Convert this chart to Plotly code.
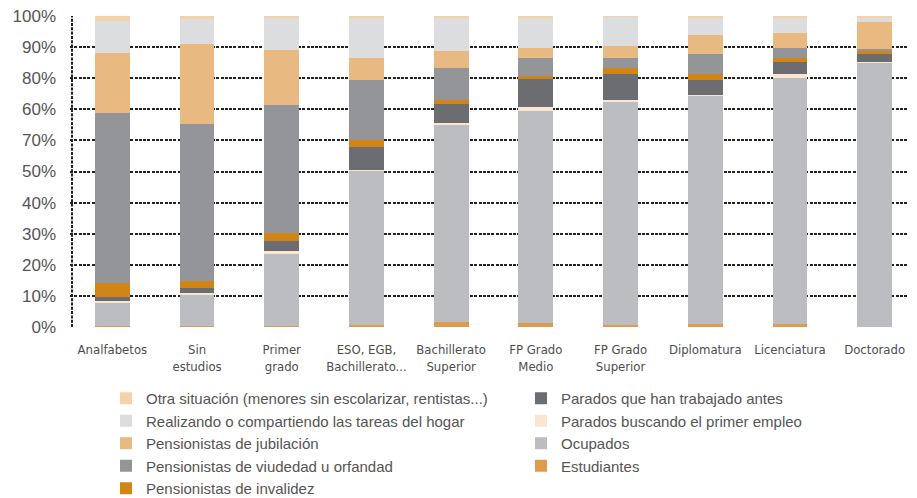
import plotly.graph_objects as go

categories = ["Analfabetos", "Sin<br>estudios", "Primer<br>grado", "ESO, EGB,<br>Bachillerato...",
              "Bachillerato<br>Superior", "FP Grado<br>Medio", "FP Grado<br>Superior",
              "Diplomatura", "Licenciatura", "Doctorado"]

estudiantes = [0.3, 0.3, 0.3, 0.5, 1.6, 1.2, 0.5, 1.0, 1.0, 0.0]
ocupados = [7.7, 10.2, 23.4, 49.8, 63.5, 68.4, 72.0, 73.4, 79.2, 85.0]
parados_buscando = [0.3, 0.3, 0.6, 0.3, 0.6, 1.3, 0.6, 0.3, 1.0, 0.1]
parados_trabajado = [1.5, 1.9, 3.5, 7.4, 6.1, 9.0, 8.4, 4.8, 4.1, 2.6]
invalidez = [4.2, 2.0, 2.3, 2.0, 1.3, 0.9, 1.7, 1.8, 1.3, 1.2]
viudedad = [54.9, 50.7, 41.4, 19.5, 10.3, 5.8, 3.4, 6.6, 3.2, 0.5]
jubilacion = [19.3, 25.5, 17.7, 7.1, 5.5, 3.2, 3.9, 6.1, 4.8, 8.8]
realizando = [10.3, 8.0, 10.3, 13.0, 10.6, 9.7, 9.2, 5.5, 4.9, 1.3]
otra = [1.5, 1.1, 0.5, 0.4, 0.5, 0.5, 0.3, 0.5, 0.5, 0.5]

tick_vals = [0, 10, 20, 30, 40, 50, 60, 70, 80, 90, 100]
tick_text = ["0%", "10%", "20%", "30%", "40%", "50%", "70%", "60%", "80%", "90%", "100%"]

# (name, values, color, legend, rank) in stacking order bottom -> top
series = [
    ("Estudiantes", estudiantes, "#DE9B4B", "legend2", 4),
    ("Ocupados", ocupados, "#BCBDC0", "legend2", 3),
    ("Parados buscando el primer empleo", parados_buscando, "#FAE5D0", "legend2", 2),
    ("Parados que han trabajado antes", parados_trabajado, "#6C6D70", "legend2", 1),
    ("Pensionistas de invalidez", invalidez, "#D08516", "legend", 5),
    ("Pensionistas de viudedad u orfandad", viudedad, "#939598", "legend", 4),
    ("Pensionistas de jubilación", jubilacion, "#E8B980", "legend", 3),
    ("Realizando o compartiendo las tareas del hogar", realizando, "#DCDDDF", "legend", 2),
    ("Otra situación (menores sin escolarizar, rentistas...)", otra, "#F4D2AA", "legend", 1),
]

fig = go.Figure()
for name, vals, color, leg, rank in series:
    fig.add_trace(go.Bar(
        x=categories, y=vals, name=name,
        marker=dict(color=color, line=dict(width=0)),
        legend=leg, legendrank=rank, legendgroup=name,
    ))

FONT = "Liberation Sans, Arial, sans-serif"
NARROW = "DejaVu Sans Condensed, Liberation Sans Narrow, sans-serif"
DASH = "3px,1.3px"

W, H = 909, 490  # page body adds an 8px offset
PLOT_W = W - 62

fig.update_layout(
    width=W, height=H,
    margin=dict(l=62, r=0, t=8, b=171, autoexpand=False),
    barmode="stack", bargap=0.59,
    plot_bgcolor="white", paper_bgcolor="white",
    font=dict(family=FONT, color="#555555", size=15),
    xaxis=dict(
        showgrid=False, showline=False, zeroline=False, ticks="",
        tickfont=dict(family=NARROW, size=13, color="#4d4d4d"),
        ticklabelstandoff=13, tickangle=0, automargin=False,
    ),
    yaxis=dict(
        range=[0, 100], tickmode="array", tickvals=tick_vals, ticktext=tick_text,
        showgrid=True, gridcolor="#222222", gridwidth=2, griddash=DASH,
        zeroline=False, showline=False, ticks="",
        tickfont=dict(family=FONT, size=17, color="#555555"),
        ticklabelstandoff=13, automargin=False, ticklabeloverflow="allow",
    ),
    legend=dict(
        xref="container", yref="container", x=98 / W, y=1 - 374 / H,
        xanchor="left", yanchor="top", traceorder="normal", tracegroupgap=0,
        font=dict(family=FONT, size=15, color="#555555"), bgcolor="rgba(0,0,0,0)",
    ),
    legend2=dict(
        xref="container", yref="container", x=513 / W, y=1 - 374 / H,
        xanchor="left", yanchor="top", traceorder="normal", tracegroupgap=0,
        font=dict(family=FONT, size=15, color="#555555"), bgcolor="rgba(0,0,0,0)",
    ),
    shapes=[
        dict(type="line", xref="paper", yref="y", x0=4 / PLOT_W, x1=1, y0=100, y1=100,
             line=dict(color="white", width=4), layer="between"),
        dict(type="line", xref="paper", yref="y", x0=2 / PLOT_W, x1=2 / PLOT_W, y0=0, y1=100,
             line=dict(color="#222222", width=2, dash=DASH), layer="below"),
    ],
)

fig.write_html("out.html")
